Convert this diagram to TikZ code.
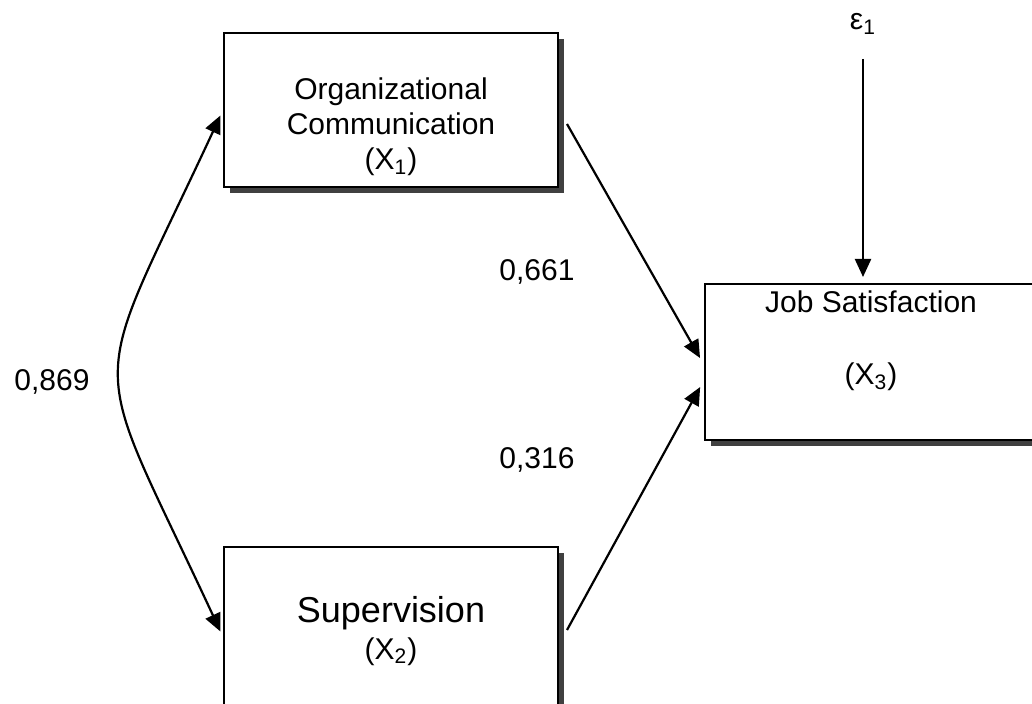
\documentclass[tikz,border=0pt]{standalone}
\usepackage{fontspec}
\setmainfont{Liberation Sans}
\usetikzlibrary{arrows.meta,shadows,positioning}

\tikzset{
  varbox/.style={draw=black, line width=1pt, fill=white,
    minimum width=167pt, minimum height=77pt,
    drop shadow={shadow xshift=3pt, shadow yshift=-3pt, fill=black!75, opacity=1}},
  txt/.style={font=\fontsize{15}{18}\selectfont, inner sep=0pt, anchor=base},
  tip/.tip={Triangle[length=9pt,width=8pt]},
  conn/.style={line width=1.1pt, -tip, shorten >=4pt},
}

\begin{document}
\begin{tikzpicture}[x=0.5pt,y=-0.5pt]
  \useasboundingbox (0,0) rectangle (1032,704);
  \clip (0,0) rectangle (1032,704);

  % variables
  \node[varbox] (org) at (391,110) {};
  \node[varbox, minimum height=90pt] (sup) at (391,637) {};
  \node[varbox, minimum width=166pt, minimum height=78pt] (job) at (871,362) {};

  \node[txt] (org-a) at (391,100) {Organizational};
  \node[txt] (org-b) at (391,135) {Communication};
  \node[txt] (org-c) at (391,170) {(X\textsubscript{1})};
  \node[txt, font=\fontsize{18}{21}\selectfont] (sup-a) at (391,622) {Supervision};
  \node[txt] (sup-b) at (391,659) {(X\textsubscript{2})};
  \node[txt] (job-a) at (871,313) {Job Satisfaction};
  \node[txt] (job-b) at (871,385) {(X\textsubscript{3})};
  \node[txt] (eps) at (863,30) {ε\textsubscript{1}};

  % coefficients
  \node[txt] (r12) at (52,391) {0,869};
  \node[txt] (p13) at (537,281) {0,661};
  \node[txt] (p23) at (537,469) {0,316};

  % paths
  \draw[conn, tip-tip, shorten <=3pt, shorten >=3pt] (org.west)
    .. controls (86,405) and (86,342) .. (sup.west);
  \draw[conn] ([xshift=4pt,yshift=-7pt]org.east) -- ([yshift=-1.5pt]job.west);
  \draw[conn] ([xshift=4pt,yshift=3.5pt]sup.east) -- ([yshift=-9pt]job.west);
  \draw[conn, shorten <=12pt, shorten >=3pt] (eps.south) -- (eps.south |- job.north);
\end{tikzpicture}
\end{document}
